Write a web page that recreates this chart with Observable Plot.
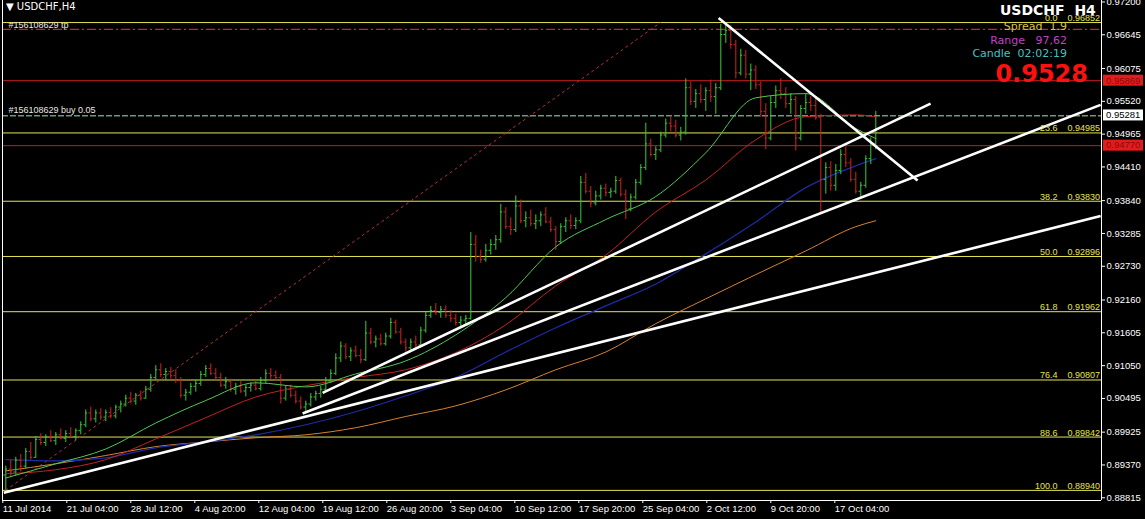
<!DOCTYPE html>
<html><head><meta charset="utf-8">
<script src="https://cdn.jsdelivr.net/npm/d3@7"></script>
<script src="https://cdn.jsdelivr.net/npm/@observablehq/plot@0.6"></script>
<style>
html,body{margin:0;padding:0;background:#000;}
#chart{position:relative;width:1145px;height:519px;overflow:hidden;background:#000;}
</style></head><body><div id="chart"></div>
<script>
// ---- DATA (prices in 1/10000) ----
const opens = [8920,8930,8925,8945,8935,8960,8950,8980,8975,8985,8978,8988,8982,8990,8985,8995,9005,9025,9015,9025,9018,9026,9020,9035,9040,9050,9045,9055,9050,9065,9085,9098,9090,9095,9088,9080,9055,9060,9070,9075,9090,9100,9092,9085,9072,9078,9065,9070,9062,9068,9072,9066,9080,9092,9088,9085,9050,9065,9055,9045,9035,9040,9052,9058,9065,9080,9092,9118,9138,9120,9130,9122,9115,9160,9145,9150,9142,9155,9178,9162,9145,9135,9145,9140,9165,9190,9198,9195,9200,9190,9185,9178,9182,9185,9310,9290,9285,9300,9310,9318,9365,9340,9335,9375,9350,9355,9345,9350,9360,9348,9335,9315,9340,9350,9342,9350,9415,9400,9380,9392,9405,9398,9400,9418,9395,9370,9390,9415,9440,9480,9462,9470,9495,9515,9510,9495,9500,9575,9552,9565,9555,9570,9560,9575,9665,9672,9648,9600,9630,9598,9605,9580,9535,9490,9550,9570,9565,9548,9555,9490,9540,9550,9545,9525,9420,9440,9410,9435,9462,9448,9420,9400,9410,9455,9480];
const highs = [8935,8945,8950,8955,8965,8975,8985,8990,8988,8995,8992,8998,8995,9000,8998,9010,9030,9035,9030,9032,9030,9034,9038,9045,9055,9060,9058,9062,9070,9090,9105,9108,9100,9102,9098,9085,9065,9075,9080,9095,9105,9108,9100,9092,9085,9082,9075,9078,9072,9076,9080,9085,9098,9100,9096,9090,9070,9072,9062,9052,9045,9058,9062,9070,9085,9098,9125,9145,9142,9135,9138,9132,9180,9168,9155,9158,9160,9185,9182,9168,9150,9150,9155,9170,9195,9205,9210,9205,9206,9198,9192,9188,9190,9330,9325,9300,9310,9318,9325,9378,9372,9355,9392,9385,9365,9368,9360,9365,9372,9356,9340,9345,9355,9360,9355,9425,9430,9408,9400,9410,9412,9405,9425,9422,9402,9395,9420,9445,9515,9488,9475,9500,9522,9525,9520,9508,9590,9585,9572,9580,9575,9588,9582,9682,9685,9680,9655,9640,9638,9615,9612,9585,9548,9560,9578,9590,9575,9565,9560,9545,9565,9560,9560,9530,9448,9450,9445,9470,9475,9455,9432,9415,9460,9490,9535];
const lows = [8894,8915,8918,8925,8930,8945,8948,8970,8968,8975,8970,8980,8975,8982,8978,8988,9000,9010,9008,9012,9010,9015,9015,9025,9035,9040,9038,9045,9048,9060,9080,9085,9080,9082,9075,9050,9045,9055,9060,9070,9085,9088,9080,9068,9065,9060,9055,9058,9052,9060,9062,9062,9075,9082,9078,9040,9045,9050,9040,9030,9024,9035,9045,9050,9060,9075,9088,9110,9115,9112,9118,9108,9112,9140,9135,9138,9138,9150,9158,9140,9128,9130,9135,9138,9160,9185,9190,9185,9185,9178,9172,9170,9175,9182,9280,9278,9280,9292,9300,9312,9335,9325,9330,9345,9338,9340,9335,9340,9345,9330,9300,9310,9330,9335,9335,9345,9395,9372,9375,9385,9390,9388,9395,9390,9352,9365,9385,9410,9435,9458,9452,9465,9490,9500,9490,9485,9495,9545,9540,9548,9535,9550,9530,9570,9650,9640,9590,9595,9590,9570,9572,9525,9470,9485,9540,9555,9540,9530,9468,9485,9530,9535,9520,9362,9395,9400,9400,9428,9440,9415,9395,9388,9405,9445,9470];
const closes = [8930,8925,8945,8935,8960,8950,8980,8975,8985,8978,8988,8982,8990,8985,8995,9005,9025,9015,9025,9018,9026,9020,9035,9040,9050,9045,9055,9050,9065,9085,9098,9090,9095,9088,9080,9055,9060,9070,9075,9090,9100,9092,9085,9072,9078,9065,9070,9062,9068,9072,9066,9080,9092,9088,9085,9050,9065,9055,9045,9035,9040,9052,9058,9065,9080,9092,9118,9138,9120,9130,9122,9115,9160,9145,9150,9142,9155,9178,9162,9145,9135,9145,9140,9165,9190,9198,9195,9200,9190,9185,9178,9182,9185,9310,9290,9285,9300,9310,9318,9365,9340,9335,9375,9350,9355,9345,9350,9360,9348,9335,9315,9340,9350,9342,9350,9415,9400,9380,9392,9405,9398,9400,9418,9395,9370,9390,9415,9440,9480,9462,9470,9495,9515,9510,9495,9500,9575,9552,9565,9555,9570,9560,9575,9665,9672,9648,9600,9630,9598,9605,9580,9535,9490,9550,9570,9565,9548,9555,9490,9540,9550,9545,9525,9420,9440,9410,9435,9462,9448,9420,9400,9410,9455,9480,9528];

// moving averages sampled at these bar numbers
const maBars   = [0,10,20,30,40,50,60,70,80,90,100,110,120,130,140,150,160,170,174];
const maGreen  = [8915,8939,8964,9008,9046,9076,9069,9091,9113,9157,9220,9306,9352,9391,9465,9558,9565,9506,9489];
const maRed    = [8922,8929,8946,8981,9017,9052,9071,9085,9098,9127,9174,9240,9292,9365,9419,9487,9526,9529,9526];
const maBlue   = [8946,8944,8949,8966,8976,8988,9005,9027,9054,9085,9128,9169,9206,9243,9294,9348,9406,9443,9455];
const maOrange = [8927,8939,8953,8968,8976,8983,8988,9000,9019,9037,9064,9098,9128,9176,9218,9259,9299,9340,9350];

// Fibonacci retracement
const fibLevels = ["0.0","23.6","38.2","50.0","61.8","76.4","88.6","100.0"];
const fibPrices = [0.96852,0.94985,0.93830,0.92896,0.91962,0.90807,0.89842,0.88940];
const fibFromBar = 0.85, fibToBar = 328.35;   // H4 bar positions of the fib anchors

// horizontal price levels
const redLevels = [0.95869, 0.94770];
const tpPrice = 0.96735;
const buyPrice = 0.95278;
const bidPrice = 0.95281;

// trend lines (H4 bar position, price)
const trendFromBar = [357.4, 159.4, 149.4, 0];
const trendFromP   = [0.9693, 0.9059, 0.9024, 0.8890];
const trendToBar   = [456.9, 463.4, 548.4, 548.4];
const trendToP     = [0.9418, 0.9548, 0.9546, 0.9358];

// axes
const yTicks = [0.97200,0.96645,0.96075,0.95520,0.94965,0.94410,0.93840,0.93285,0.92730,0.92160,0.91605,0.91050,0.90495,0.89925,0.89370,0.88815];
const xTickBars = [0,32,64,96,128,160,192,224,256,288,320,352,384,416];
const xLabels = ["11 Jul 2014","21 Jul 04:00","28 Jul 12:00","4 Aug 20:00","12 Aug 04:00","19 Aug 12:00","26 Aug 20:00","3 Sep 04:00","10 Sep 12:00","17 Sep 20:00","25 Sep 04:00","2 Oct 12:00","9 Oct 20:00","17 Oct 04:00"];

// info panel
const symbolTitle = "USDCHF  H4";
const spreadText = "Spread  1.9";
const rangeText = "Range   97,62";
const candleText = "Candle  02:02:19";
const bigPrice = "0.9528";

// ---- BUILD ----
const S = 1e-4;
const UP = "#3acb3a", DN = "#cf2424";
const barPos = j => 1 + 2.5 * j;
const bars = closes.map((c, j) => ({t: barPos(j), o: opens[j]*S, h: highs[j]*S, l: lows[j]*S, c: c*S, col: c >= opens[j] ? UP : DN}));
const maRows = vals => vals.map((v, i) => ({t: barPos(maBars[i]), p: v*S}));
const fib = fibPrices.map((p, i) => ({p, lvl: fibLevels[i], txt: p.toFixed(5)}));
const fibLine = [{t1: fibFromBar, p1: fibPrices[7], t2: fibToBar, p2: fibPrices[0]}];
const trends = trendFromBar.map((t, i) => ({t1: t, p1: trendFromP[i], t2: trendToBar[i], p2: trendToP[i]}));
const xDom = [-0.65, 548.85], yDom = [0.88769, 0.97225];
const YEL = "#e4e452";
const FONT = "Liberation Sans, Arial, sans-serif";

const chart = Plot.plot({
  width: 1145, height: 519,
  marginTop: 0, marginBottom: 19, marginLeft: 2, marginRight: 44,
  style: {background: "#000", color: "#fff", fontFamily: FONT},
  x: {type: "linear", domain: xDom},
  y: {domain: yDom},
  marks: [
    Plot.ruleY(fib, {y: "p", stroke: YEL, strokeWidth: 1}),
    Plot.ruleY(redLevels, {stroke: "#c41c1c", strokeWidth: 1}),
    Plot.ruleY([tpPrice], {stroke: "#cc2424", strokeWidth: 1.3, strokeDasharray: "9,3,2,3"}),
    Plot.ruleY([buyPrice], {stroke: "#6a9a72", strokeWidth: 1.5, strokeDasharray: "6,2"}),
    Plot.link(fibLine, {x1: "t1", y1: "p1", x2: "t2", y2: "p2", stroke: "#b83030", strokeWidth: 1, strokeDasharray: "3,3"}),
    Plot.line(maRows(maOrange), {x: "t", y: "p", stroke: "#d8822e", strokeWidth: 1, curve: "monotone-x"}),
    Plot.line(maRows(maBlue), {x: "t", y: "p", stroke: "#1c2ca8", strokeWidth: 1.2, curve: "monotone-x"}),
    Plot.ruleX(bars, {x: "t", y1: "l", y2: "h", stroke: "col", strokeWidth: 1}),
    Plot.ruleY(bars, {y: "o", x1: d => d.t - 0.9, x2: "t", stroke: "col", strokeWidth: 1}),
    Plot.ruleY(bars, {y: "c", x1: "t", x2: d => d.t + 0.9, stroke: "col", strokeWidth: 1}),
    Plot.line(maRows(maRed), {x: "t", y: "p", stroke: "#c82020", strokeWidth: 1, curve: "monotone-x"}),
    Plot.line(maRows(maGreen), {x: "t", y: "p", stroke: "#52c852", strokeWidth: 1, curve: "monotone-x"}),
    Plot.link(trends, {x1: "t1", y1: "p1", x2: "t2", y2: "p2", stroke: "#fff", strokeWidth: 2.6}),
    Plot.text(fib, {y: "p", text: "lvl", frameAnchor: "right", textAnchor: "end", lineAnchor: "bottom", dx: -44, dy: -1.5, fill: YEL, fontSize: 9, fontFamily: FONT}),
    Plot.text(fib, {y: "p", text: "txt", frameAnchor: "right", textAnchor: "start", lineAnchor: "bottom", dx: -34, dy: -1.5, fill: YEL, fontSize: 9, fontFamily: FONT}),
    Plot.text([tpPrice], {y: d => d, text: () => "#156108629 tp", frameAnchor: "left", textAnchor: "start", lineAnchor: "bottom", dx: 6, dy: -1.5, fill: "#e8e8e8", fontSize: 9, fontFamily: FONT}),
    Plot.text([buyPrice], {y: d => d, text: () => "#156108629 buy 0.05", frameAnchor: "left", textAnchor: "start", lineAnchor: "bottom", dx: 6, dy: -2.5, fill: "#e8e8e8", fontSize: 9, fontFamily: FONT}),
    Plot.ruleX([xDom[0], xDom[1]], {stroke: "#fff", strokeWidth: 1}),
    Plot.ruleY([yDom[0]], {stroke: "#fff", strokeWidth: 1}),
    Plot.axisY({anchor: "right", ticks: yTicks, tickFormat: d => d.toFixed(5), tickSize: 3, tickPadding: 2, stroke: "#fff", fill: "#fff", fontSize: 9.5, fontFamily: FONT}),
    Plot.axisX({anchor: "bottom", ticks: xTickBars, tickFormat: d => xLabels[xTickBars.indexOf(d)], textAnchor: "start", dx: -1, tickSize: 3, tickPadding: 1.5, stroke: "#fff", fill: "#fff", fontSize: 9.5, fontFamily: FONT})
  ]
});
document.getElementById("chart").appendChild(chart);

// ---- price boxes on right axis & info texts, placed with the plot's y scale ----
const svg = d3.select(chart);
const ys = chart.scale("y");
const boxes = [
  {p: redLevels[0], bg: "#e21c1c", fg: "#8c0c0c"},
  {p: bidPrice, bg: "#ffffff", fg: "#000000"},
  {p: redLevels[1], bg: "#e21c1c", fg: "#8c0c0c"}
];
const boxG = svg.append("g").attr("text-anchor", "start");
boxes.forEach(b => {
  const y = ys.apply(b.p);
  boxG.append("rect").attr("x", 1103).attr("y", y - 5.5).attr("width", 40).attr("height", 11).attr("fill", b.bg);
  boxG.append("text").attr("x", 1106).attr("y", y).attr("dy", "0.35em").attr("fill", b.fg).attr("text-anchor", "start")
    .attr("font-size", 9.5).attr("font-family", FONT).text(b.p.toFixed(5));
});
const info = svg.append("g").attr("font-family", "DejaVu Sans, sans-serif").attr("text-anchor", "start");
info.append("text").attr("x", 1000).attr("y", 15).attr("text-anchor", "start").attr("fill", "#fff").attr("font-size", 14).attr("font-weight", "bold").text(symbolTitle.replace(/ /g, "\u00a0"));
info.append("text").attr("x", 1067).attr("y", 30).attr("text-anchor", "end").attr("fill", "#d6c448").attr("font-size", 11).text(spreadText.replace(/ /g, "\u00a0"));
info.append("text").attr("x", 1067).attr("y", 44).attr("text-anchor", "end").attr("fill", "#c040c8").attr("font-size", 11).text(rangeText.replace(/ /g, "\u00a0"));
info.append("text").attr("x", 1067).attr("y", 57).attr("text-anchor", "end").attr("fill", "#40c4c4").attr("font-size", 11).text(candleText.replace(/ /g, "\u00a0"));
info.append("text").attr("x", 1088).attr("y", 82).attr("text-anchor", "end").attr("fill", "#ff1010").attr("font-size", 24).attr("font-weight", "bold").text(bigPrice);
info.append("text").attr("x", 6).attr("y", 10).attr("text-anchor", "start").attr("fill", "#fff").attr("font-size", 10).text("\u25BC\u00a0USDCHF,H4");
</script>
</body></html>
